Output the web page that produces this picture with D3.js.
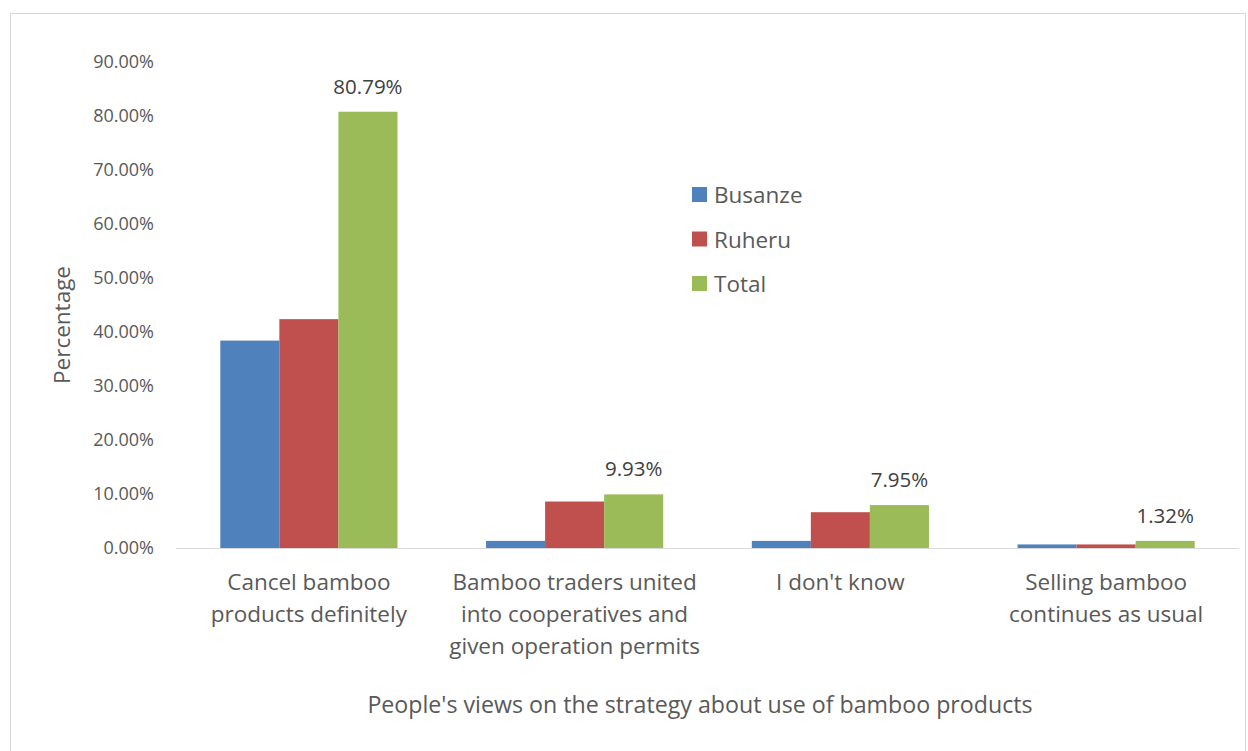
<!DOCTYPE html>
<html>
<head>
<meta charset="utf-8">
<script src="https://cdn.jsdelivr.net/npm/d3@7"></script>
<style>
  html, body { margin: 0; padding: 0; background: #fff; }
  svg { display: block; font-family: "Open Sans", "Noto Sans", sans-serif; }
</style>
</head>
<body>
<svg id="chart" width="1248" height="751"></svg>
<script>
// Survey responses by site, percent of all respondents
const categories = [
  ["Cancel bamboo", "products definitely"],
  ["Bamboo traders united", "into cooperatives and", "given operation permits"],
  ["I don't know"],
  ["Selling bamboo", "continues as usual"]
];
const seriesNames = ["Busanze", "Ruheru", "Total"];
const busanze = [38.41, 1.32, 1.32, 0.66];
const ruheru  = [42.38, 8.61, 6.63, 0.66];
const total   = [80.79, 9.93, 7.95, 1.32];
const yTicks  = [0, 10, 20, 30, 40, 50, 60, 70, 80, 90];
const colors  = ["#4F81BD", "#C0504D", "#9BBB59"];

const series = [busanze, ruheru, total];

const svg = d3.select("#chart");
const textColor = "#595959";

// outer frame
svg.append("rect")
  .attr("x", 10.5).attr("y", 13.5)
  .attr("width", 1235).attr("height", 745)
  .attr("fill", "#fff").attr("stroke", "#d9d9d9").attr("stroke-width", 1);

const plot = { left: 176, right: 1239, top: 62, bottom: 548 };

// group gap = 150% of a bar width
const x0 = d3.scaleBand()
  .domain(d3.range(categories.length))
  .range([plot.left, plot.right])
  .paddingInner(0.3333).paddingOuter(0.1667);
const x1 = d3.scaleBand()
  .domain(d3.range(seriesNames.length))
  .range([0, x0.bandwidth()]);

const y = d3.scaleLinear().domain([0, 90]).range([plot.bottom, plot.top]);

// y axis tick labels
const yAxis = d3.axisLeft(y)
  .tickValues(yTicks)
  .tickFormat(d => d.toFixed(2) + "%")
  .tickSize(0).tickPadding(22);
const gy = svg.append("g")
  .attr("transform", `translate(${plot.left},0)`)
  .call(yAxis);
gy.select(".domain").remove();
gy.selectAll("text")
  .attr("fill", textColor)
  .style("font-size", "18px")
  .style("font-family", "'Open Sans', sans-serif");

// bars
series.forEach((vals, si) => {
  svg.append("g").selectAll("rect")
    .data(vals)
    .join("rect")
    .attr("x", (d, i) => x0(i) + x1(si))
    .attr("y", d => y(d))
    .attr("width", x1.bandwidth())
    .attr("height", d => y(0) - y(d))
    .attr("fill", colors[si]);
});

// x axis line
const xAxis = d3.axisBottom(x0).tickSize(0).tickFormat("");
const gx = svg.append("g")
  .attr("transform", `translate(0,${plot.bottom})`)
  .call(xAxis);
gx.select(".domain").attr("stroke", "#d9d9d9").attr("stroke-width", 1)
  .attr("d", `M${plot.left},0.5H${plot.right}`);

// category labels (multi-line)
categories.forEach((lines, i) => {
  const cx = x0(i) + x0.bandwidth() / 2;
  const t = svg.append("text")
    .attr("x", cx)
    .attr("y", plot.bottom + 42)
    .attr("text-anchor", "middle")
    .attr("fill", textColor)
    .style("font-size", "22.5px");
  lines.forEach((ln, k) => {
    t.append("tspan")
      .attr("x", cx)
      .attr("dy", k === 0 ? 0 : 32)
      .text(ln);
  });
});

// data labels on Total bars
svg.append("g").selectAll("text")
  .data(total)
  .join("text")
  .attr("x", (d, i) => x0(i) + x1(2) + x1.bandwidth() / 2)
  .attr("y", d => y(d) - 18)
  .attr("text-anchor", "middle")
  .attr("fill", "#404040")
  .style("font-size", "20.5px")
  .text(d => d.toFixed(2) + "%");

// axis titles
svg.append("text")
  .attr("transform", `translate(70,${(plot.top + plot.bottom) / 2 + 20}) rotate(-90)`)
  .attr("text-anchor", "middle")
  .attr("fill", textColor)
  .style("font-size", "22.5px")
  .text("Percentage");

svg.append("text")
  .attr("x", 700)
  .attr("y", 713)
  .attr("text-anchor", "middle")
  .attr("fill", textColor)
  .style("font-size", "23.2px")
  .text("People's views on the strategy about use of bamboo products");

// legend
const legend = svg.append("g").attr("transform", "translate(692,187)");
seriesNames.forEach((name, i) => {
  const g = legend.append("g").attr("transform", `translate(0,${i * 44.5})`);
  g.append("rect").attr("width", 15).attr("height", 15).attr("fill", colors[i]);
  g.append("text")
    .attr("x", 22).attr("y", 16)
    .attr("fill", textColor)
    .style("font-size", "22.5px")
    .text(name);
});
</script>
</body>
</html>
